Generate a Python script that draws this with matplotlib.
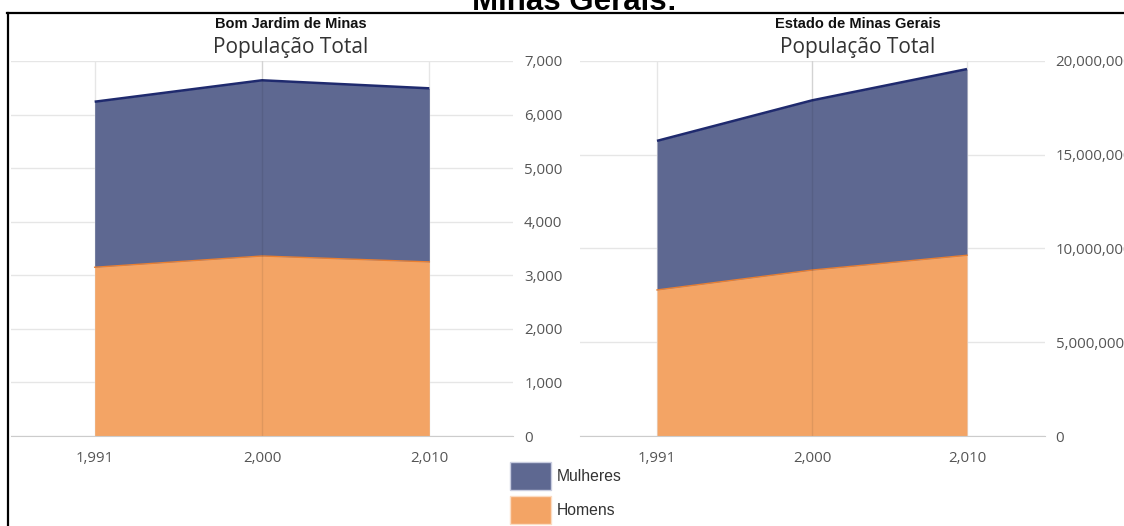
import matplotlib
matplotlib.use("Agg")
import matplotlib.pyplot as plt
from matplotlib.patches import Patch
from matplotlib.lines import Line2D
from matplotlib.ticker import FuncFormatter, MultipleLocator

# Census years and population by sex
years = [1991, 2000, 2010]

bjm_homens = [3150, 3360, 3250]
bjm_mulheres = [3090, 3280, 3240]

mg_homens = [7790000, 8850000, 9640000]
mg_mulheres = [7950000, 9050000, 9930000]

suptitle = "Minas Gerais:"
panel_titles = ["Bom Jardim de Minas", "Estado de Minas Gerais"]
subtitle = "População Total"
series_names = ["Mulheres", "Homens"]

COL_M = "#5e6891"      # Mulheres fill
COL_M_LINE = "#1f2a6e"
COL_H = "#f3a465"      # Homens fill
COL_H_LINE = "#ea7f30"
GRID = "#e6e6e6"

W, H = 1124, 526
fig = plt.figure(figsize=(W / 100, H / 100), dpi=100)


def fx(x):
    return x / W


def fy(y):
    return 1 - y / H


def make_panel(left, right, homens, mulheres, ymax, ystep, title_cx, title):
    ax = fig.add_axes([fx(left), fy(436), fx(right - left), (436 - 61) / H])
    xs = list(range(len(years)))
    total = [h + m for h, m in zip(homens, mulheres)]
    ax.fill_between(xs, 0, homens, color=COL_H, lw=0, zorder=2)
    ax.fill_between(xs, homens, total, color=COL_M, lw=0, zorder=2)
    ax.plot(xs, homens, color=COL_H_LINE, lw=1.0, zorder=3)
    ax.plot(xs, total, color=COL_M_LINE, lw=1.8, zorder=3,
            solid_capstyle="butt")
    # category grid lines behind the areas
    for x in xs:
        ax.axvline(x, color=GRID, lw=1, zorder=1)
    # seam where the area segments meet
    for x in xs[1:-1]:
        ax.axvline(x, ymax=1, color="black", alpha=0.08, lw=1, zorder=4)
    ax.set_xlim(-0.5, len(years) - 0.5)
    ax.set_ylim(0, ymax)
    ax.yaxis.set_major_locator(MultipleLocator(ystep))
    ax.yaxis.set_major_formatter(FuncFormatter(lambda v, p: f"{v:,.0f}"))
    ax.set_xticks(xs)
    ax.set_xticklabels([f"{y:,}" for y in years])
    ax.yaxis.tick_right()
    ax.grid(axis="y", color=GRID, lw=1, zorder=1)
    ax.set_axisbelow(True)
    for s in ["top", "left", "right"]:
        ax.spines[s].set_visible(False)
    ax.spines["bottom"].set_color("#cccccc")
    ax.spines["bottom"].set_zorder(5)
    ax.tick_params(axis="both", length=0, colors="#666666", labelsize=10.8)
    ax.tick_params(axis="y", pad=8)
    ax.tick_params(axis="x", pad=11)
    for lab in ax.get_xticklabels() + ax.get_yticklabels():
        lab.set_fontfamily("Open Sans")
        lab.set_color("#555555")
    for lab in ax.get_yticklabels():
        lab.set_horizontalalignment("left")
    fig.text(fx(title_cx), fy(24), title, ha="center", va="center",
             fontsize=10.5, fontweight="bold", family="Liberation Sans",
             color="#111111")
    fig.text(fx(title_cx), fy(47), subtitle, ha="center", va="center",
             fontsize=15, family="Open Sans", color="#333333")
    return ax


make_panel(11, 513, bjm_homens, bjm_mulheres, 7000, 1000, 291,
           panel_titles[0])
make_panel(579.5, 1044.5, mg_homens, mg_mulheres, 20000000, 5000000, 858,
           panel_titles[1])

# Overall heading, partly cut off by the top edge
fig.text(fx(574), fy(10), suptitle, ha="center", va="baseline",
         fontsize=22.5, fontweight="bold", family="Liberation Sans",
         color="black")

# Frame around the charts
fig.add_artist(Line2D([fx(7), 1.0], [fy(12.5), fy(12.5)], color="black",
                      lw=1.6, transform=fig.transFigure))
fig.add_artist(Line2D([fx(7.5), fx(7.5)], [fy(12.5), 0.0], color="black",
                      lw=1.6, transform=fig.transFigure))

handles = [Patch(facecolor=COL_M, edgecolor="#c9cde0", lw=1),
           Patch(facecolor=COL_H, edgecolor="#fbdcc3", lw=1)]
fs = 11.3
fpx = fs / 72 * 100
hh = (28 / fpx - 0.245) / 0.65
fig.legend(handles, series_names, loc="upper left",
           bbox_to_anchor=(fx(510), fy(462)), frameon=False,
           prop={"family": "Liberation Sans", "size": fs},
           handlelength=41 / fpx, handleheight=hh,
           handletextpad=6 / fpx, labelspacing=6 / fpx,
           borderpad=0, borderaxespad=0, labelcolor="#333333")

fig.savefig("out.png", dpi=100)
